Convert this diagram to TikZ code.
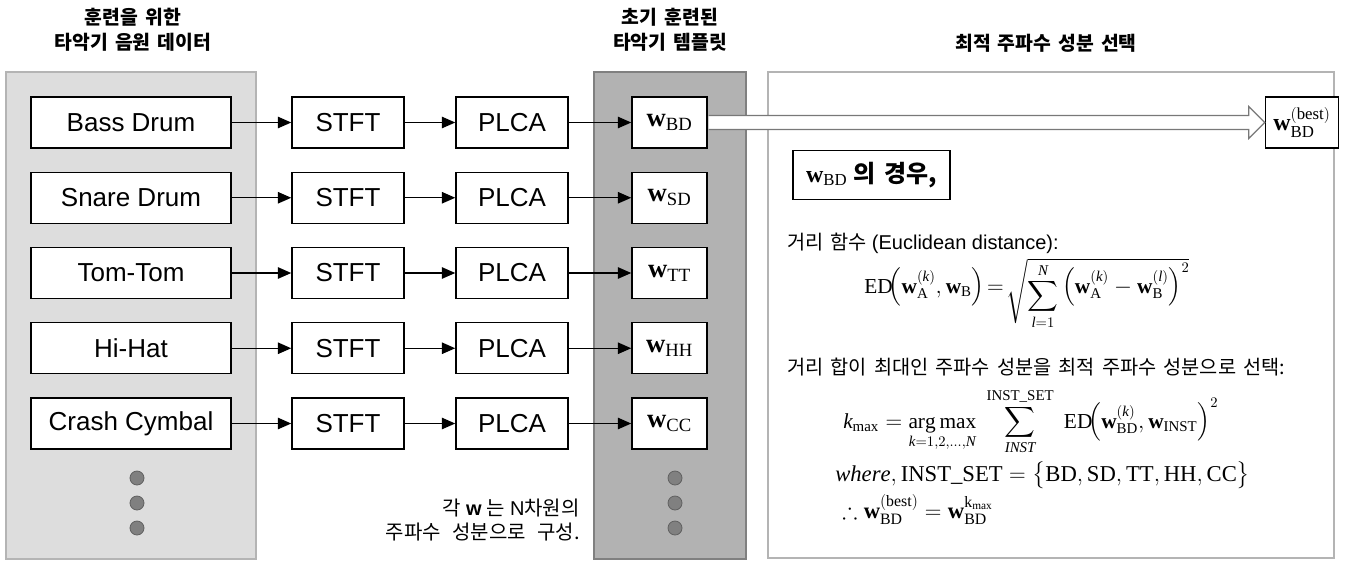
\documentclass[tikz,border=0pt]{standalone}
\usepackage{amsmath,amssymb}
\usepackage{fontspec}
\setmainfont{Liberation Serif}
\newfontfamily\kr{Noto Sans CJK KR}
\newfontfamily\krw[WordSpace=1.6]{Noto Sans CJK KR}
\newfontfamily\ar{Liberation Sans}
\usetikzlibrary{arrows.meta,calc}
\definecolor{panelA}{RGB}{221,221,221}
\definecolor{panelAedge}{RGB}{180,180,180}
\definecolor{panelB}{RGB}{178,178,178}
\definecolor{panelBedge}{RGB}{128,128,128}
\definecolor{dotfill}{RGB}{128,128,128}
\definecolor{dotedge}{RGB}{96,96,96}
\definecolor{hollowedge}{RGB}{120,120,120}
\newcommand{\lowsum}[2]{\smash{\raisebox{-0.45em}{$\displaystyle\sum_{#1}^{#2}$}}}
\begin{document}
\begin{tikzpicture}[x=0.75pt,y=-0.75pt,
  srcbox/.style={draw=black, line width=1.1pt, fill=white, minimum width=150pt, minimum height=38.25pt, inner sep=0pt, font=\ar\fontsize{19.5}{22}\selectfont},
  procbox/.style={srcbox, minimum width=84pt},
  wbox/.style={draw=black, line width=1.1pt, fill=white, minimum width=56.25pt, minimum height=38.25pt, inner sep=0pt, font=\fontsize{20}{22}\selectfont},
  flow/.style={-{Triangle[length=10pt,width=8.5pt]}, line width=1.1pt},
  dotnode/.style={circle, fill=dotfill, draw=dotedge, line width=0.6pt, minimum size=10.5pt, inner sep=0pt},
  header/.style={align=center, font=\kr\bfseries\fontsize{14.5}{18.75}\selectfont},
  body/.style={anchor=west, inner sep=0pt, font=\fontsize{15}{18}\selectfont},
  formula/.style={anchor=base west, inner sep=0pt, font=\fontsize{16}{19}\selectfont}]
\useasboundingbox (0,0) rectangle (1349,561);
% panels
\draw[fill=panelA, draw=panelAedge, line width=1.1pt] (6,72) rectangle (256,559);
\draw[fill=panelB, draw=panelBedge, line width=1.1pt] (594,72) rectangle (746,559);
\draw[fill=white, draw=panelAedge, line width=1.1pt] (768,72) rectangle (1334,558);
% headers
\node[header] (h1) at (133,30) {훈련을 위한\\타악기 음원 데이터};
\node[header] (h2) at (670,30) {초기 훈련된\\타악기 템플릿};
\node[header] (h3) at (1046,43) {최적 주파수 성분 선택};
% rows
\foreach \i/\nm/\lab/\sub in {0/bd/Bass Drum/BD, 1/sd/Snare Drum/SD, 2/tt/Tom-Tom/TT, 3/hh/Hi-Hat/HH, 4/cc/Crash Cymbal/CC} {
  \pgfmathsetmacro\yy{122.5+75.25*\i}
  \node[srcbox] (src\nm) at (131,\yy) {\lab};
  \node[procbox] (stft\nm) at (348,\yy) {STFT};
  \node[procbox] (plca\nm) at (512,\yy) {PLCA};
  \node[wbox] (w\nm) at (669.5,\yy) {$\mathbf{w}_{\mathrm{\sub}}$};
  \draw[flow] (src\nm) -- (stft\nm);
  \draw[flow] (stft\nm) -- (plca\nm);
  \draw[flow] (plca\nm) -- (w\nm);
}
% dots
\foreach \k/\yy in {1/478,2/503,3/528} {
  \node[dotnode] (ldot\k) at (137,\yy) {};
  \node[dotnode] (rdot\k) at (675,\yy) {};
}
% best box and hollow arrow
\node[wbox, minimum width=54.75pt, font=\fontsize{18}{20}\selectfont] (best) at (1302,122.5) {$\mathbf{w}_{\mathrm{BD}}^{\left(\mathrm{best}\right)}$};
\filldraw[fill=white, draw=hollowedge, line width=0.9pt]
  ($(wbd.east)+(0.8,-7)$) -- ($(best.west)+(-16,-7)$) -- ($(best.west)+(-16,-16)$) -- (best.west)
  -- ($(best.west)+(-16,16)$) -- ($(best.west)+(-16,7)$) -- ($(wbd.east)+(0.8,7)$);
% case box
\node[draw=black, line width=1.1pt, fill=white, minimum width=117.75pt, minimum height=36.75pt, inner sep=0pt, font=\fontsize{18}{20}\selectfont] (case) at (871.5,175) {$\mathbf{w}_{\mathrm{BD}}$ {\kr\bfseries 의 경우,}};
% explanation
\node[body] (t1) at (787,243) {{\krw\fontsize{14.8}{18}\selectfont 거리 함수} {\ar (Euclidean distance):}};
\node[formula] (f1) at (864,293) {$\mathrm{ED}\!\Bigl(\mathbf{w}_{\mathrm{A}}^{(\mathit{k})},\mathbf{w}_{\mathrm{B}}\Bigr)\!=\!\sqrt{\rule[-1.35em]{0pt}{1.95em}\lowsum{\mathit{l}=1}{\mathit{N}}\,\Bigl(\mathbf{w}_{\mathrm{A}}^{(\mathit{k})}-\mathbf{w}_{\mathrm{B}}^{(\mathit{l})}\Bigr)^{2}}$};
\node[body, font=\krw\fontsize{14.8}{18}\selectfont] (t2) at (787,367) {거리 합이 최대인 주파수 성분을 최적 주파수 성분으로 선택:};
\node[formula] (f2) at (843,428) {$\displaystyle \mathit{k}_{\mathrm{max}}=\mathop{\mathrm{arg\,max}}\limits_{\mathit{k}=1,2,\ldots,\mathit{N}}\;\sum_{\mathit{INST}}^{\mathrm{INST\_SET}}\;\mathrm{ED}\!\Bigl(\mathbf{w}_{\mathrm{BD}}^{(\mathit{k})},\mathbf{w}_{\mathrm{INST}}\Bigr)^{2}$};
\node[formula, font=\fontsize{17}{20}\selectfont] (f3) at (835,481) {$\mathit{where},\mathrm{INST\_SET}=\bigl\{\mathrm{BD},\mathrm{SD},\mathrm{TT},\mathrm{HH},\mathrm{CC}\bigr\}$};
\node[formula, font=\fontsize{17}{20}\selectfont] (f4) at (842,518) {$\therefore\mathbf{w}_{\mathrm{BD}}^{\left(\mathrm{best}\right)}=\mathbf{w}_{\mathrm{BD}}^{\mathrm{k}_{\mathrm{max}}}$};
% note
\node[anchor=east, align=right, inner sep=0pt, font=\fontsize{15}{18}\selectfont] (note) at (580,520) {{\kr 각} {\ar\bfseries w} {\kr 는} {\ar N}{\kr 차원의}\\{\kr 주파수 성분으로 구성.}};
\end{tikzpicture}
\end{document}
